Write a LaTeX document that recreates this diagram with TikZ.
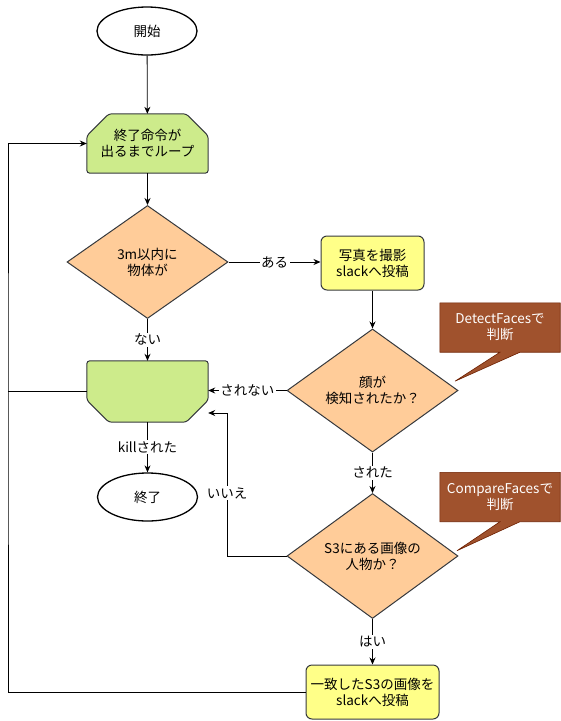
\documentclass[tikz,border=0pt]{standalone}
\usepackage{fontspec}
\setmainfont{Noto Sans CJK JP}
\usetikzlibrary{shapes.geometric, positioning, arrows.meta, backgrounds}
\definecolor{lgreen}{HTML}{CDEB8B}
\definecolor{lorange}{HTML}{FFCC99}
\definecolor{lyellow}{HTML}{FFFF88}
\definecolor{sienna}{HTML}{A0522D}
\definecolor{siennadark}{HTML}{6D1F00}
\definecolor{shapeline}{HTML}{36393D}

\tikzset{
	term/.style = {ellipse, draw, line width=1.3pt, fill=white, minimum width=100pt, minimum height=48pt},
	cond/.style = {diamond, draw=shapeline, line width=1pt, fill=lorange, minimum width=171pt, minimum height=111pt, inner sep=0pt},
	proc/.style = {rectangle, rounded corners=6pt, draw=shapeline, line width=1pt, fill=lyellow, minimum height=54pt, inner sep=0pt},
	limit/.style = {minimum width=121pt, minimum height=59pt, inner sep=0pt},
	limitfill/.style = {draw=shapeline, line width=1pt, fill=lgreen, rounded corners=3pt},
	note/.style = {text=white, minimum width=120pt, minimum height=49pt, inner sep=0pt},
	notefill/.style = {draw=siennadark, line width=0.6pt, fill=sienna},
	arr/.style = {-{Stealth[length=7pt, width=6pt]}, line width=0.8pt},
	lbl/.style = {fill=white, inner sep=1.5pt}
}

\begin{document}
\begin{tikzpicture}[x=1pt, y=-1pt, align=center, font=\fontsize{13.5}{16}\selectfont]
	\useasboundingbox (0,0) rectangle (561,721);

	\node[term] (start) at (147,31) {開始};
	\node[limit] (loop) at (147.5,143.5) {終了命令が\\出るまでループ};
	\node[cond, minimum width=161pt, minimum height=113pt] (obj) at (147.5,262) {3m以内に\\物体が};
	\node[proc, minimum width=103pt] (photo) at (372.5,263) {写真を撮影\\slackへ投稿};
	\node[cond] (face) at (372.5,390.5) {顔が\\検知されたか？};
	\node[limit, minimum height=61pt] (loopend) at (147.5,391.5) {};
	\node[term] (stop) at (147.5,497) {終了};
	\node[cond, minimum height=110pt] (match) at (372.5,556) {S3にある画像の\\人物か？};
	\node[proc, minimum width=133pt] (post) at (372.5,692) {一致したS3の画像を\\slackへ投稿};
	\node[note] (detect) at (500,327.5) {DetectFacesで\\判断};
	\node[note] (compare) at (500,497) {CompareFacesで\\判断};

	\coordinate (ret) at (227,413);
	\coordinate (lft) at (8,400);

	% shapes behind the texts
	\begin{scope}[on background layer]
		\draw[limitfill] (loop.south west) -- ([yshift=-22pt]loop.north west) -- ([xshift=22pt]loop.north west)
			-- ([xshift=-22pt]loop.north east) -- ([yshift=-22pt]loop.north east) -- (loop.south east) -- cycle;
		\draw[limitfill] (loopend.north west) -- (loopend.north east) -- ([yshift=22pt]loopend.south east)
			-- ([xshift=-22pt]loopend.south east) -- ([xshift=22pt]loopend.south west) -- ([yshift=22pt]loopend.south west) -- cycle;
		\draw[notefill] (detect.south west) -- (detect.north west) -- (detect.north east) -- (detect.south east)
			-- ([xshift=20pt]detect.south) -- ([xshift=-45pt, yshift=-29pt]detect.south) -- (detect.south) -- cycle;
		\draw[notefill] (compare.south west) -- (compare.north west) -- (compare.north east) -- (compare.south east)
			-- ([xshift=20pt]compare.south) -- ([xshift=-43pt, yshift=-29pt]compare.south) -- (compare.south) -- cycle;
	\end{scope}

	\draw[arr] (start) -- (loop);
	\draw[arr] (loop) -- (obj);
	\draw[arr] (obj) -- node[lbl] {ある} (photo.west |- obj);
	\draw[arr] (obj) -- node[lbl] {ない} (loopend);
	\draw[arr] (photo) -- (face);
	\draw[arr] (face.west) -- node[lbl] {されない} (face.west -| loopend.east);
	\draw[arr] (face) -- node[lbl] {された} (match);
	\draw[arr] (match.west) -| (ret) node[lbl, pos=0.72] {いいえ} -- (ret -| loopend.east);
	\draw[arr] (match) -- node[lbl] {はい} (post);
	\draw[arr] (loopend) -- node[lbl] {killされた} (stop);
	\draw[arr] (post.west) -| (lft) |- (loop.west);
	\draw (loopend.west) -- (loopend.west -| lft);
\end{tikzpicture}
\end{document}
